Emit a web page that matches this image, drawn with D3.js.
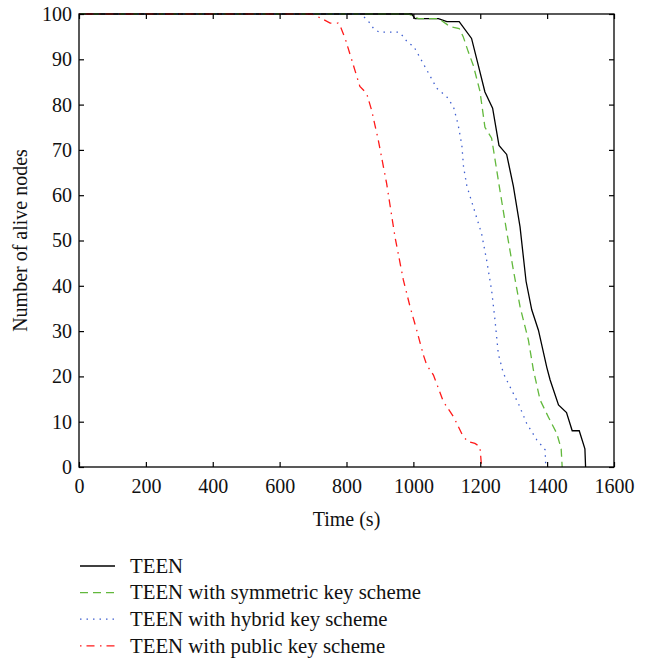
<!DOCTYPE html>
<html>
<head>
<meta charset="utf-8">
<script src="https://cdn.jsdelivr.net/npm/d3@7"></script>
<style>
  body { margin: 0; background: #fff; }
  text { font-family: "Liberation Serif", "DejaVu Serif", serif; fill: #111; }
</style>
</head>
<body>
<div id="chart"></div>
<script>
// x tick values / y tick values
var xTicks = [0, 200, 400, 600, 800, 1000, 1200, 1400, 1600];
var yTicks = [0, 10, 20, 30, 40, 50, 60, 70, 80, 90, 100];

// TEEN
var teenTime = [0, 995, 1005, 1075, 1100, 1137, 1174, 1194, 1214, 1237, 1256, 1279, 1299, 1319, 1337, 1354, 1374, 1399, 1409, 1434, 1458, 1475, 1496, 1513, 1515];
var teenAlive = [100, 100, 99, 99, 98.3, 98.3, 94.6, 88.7, 82.8, 79.2, 71, 69, 62, 53, 41, 34.7, 30.2, 22, 19.2, 13.7, 12, 8, 8, 4, 0];

// TEEN with symmetric key scheme
var symTime = [0, 985, 1015, 1075, 1110, 1137, 1149, 1164, 1179, 1199, 1214, 1234, 1259, 1279, 1299, 1319, 1344, 1359, 1379, 1404, 1429, 1442, 1445];
var symAlive = [100, 100, 99, 99, 97.2, 96.8, 95, 91.7, 88.7, 83, 75, 72.6, 61, 52, 43.5, 35.4, 28, 21.4, 14.8, 11, 7.4, 4, 0];

// TEEN with hybrid key scheme
var hybTime = [0, 840, 858, 870, 882, 898, 958, 970, 985, 1000, 1030, 1070, 1100, 1120, 1134, 1145, 1150, 1160, 1179, 1204, 1219, 1234, 1244, 1254, 1269, 1289, 1314, 1339, 1369, 1394, 1396];
var hybAlive = [100, 100, 99, 98, 96.7, 96, 96, 95, 93.5, 93, 89, 83.6, 81.7, 79.5, 75.5, 71, 66.3, 62, 57.5, 51.5, 45.7, 39, 32.5, 25, 20.7, 17.7, 14, 9.6, 6, 3.8, 0];

// TEEN with public key scheme
var pubTime = [0, 696, 726, 751, 775, 783, 796, 816, 840, 860, 875, 895, 920, 945, 970, 990, 1010, 1030, 1040, 1060, 1090, 1120, 1149, 1164, 1184, 1199, 1204];
var pubAlive = [100, 100, 99, 98, 98, 97, 94.6, 89.8, 84, 82.5, 78.8, 72.2, 62.6, 50.8, 41.3, 35.4, 30.2, 24.7, 22.5, 20.3, 14.4, 11.1, 6.7, 5.6, 5.2, 4.5, 0];

var seriesNames = ["TEEN", "TEEN with symmetric key scheme", "TEEN with hybrid key scheme", "TEEN with public key scheme"];

var series = [
    { name: seriesNames[0], t: teenTime, v: teenAlive, color: "#000000", dash: null },
    { name: seriesNames[1], t: symTime, v: symAlive, color: "#62b83c", dash: "8,5" },
    { name: seriesNames[2], t: hybTime, v: hybAlive, color: "#3f5fd0", dash: "1.5,5" },
    { name: seriesNames[3], t: pubTime, v: pubAlive, color: "#ff1a1a", dash: "1.5,5,8,5.5" }
];

var margin = { top: 14, right: 40, bottom: 192, left: 79 },
    width = 654 - margin.left - margin.right,
    height = 659 - margin.top - margin.bottom;

var x = d3.scaleLinear().domain([0, 1600]).range([0, width]);
var y = d3.scaleLinear().domain([0, 100]).range([height, 0]);

var svg = d3.select("#chart").append("svg")
    .attr("width", 654)
    .attr("height", 659)
    .append("g")
    .attr("transform", "translate(" + margin.left + "," + margin.top + ")");

var line = d3.line()
    .x(function (d) { return x(d[0]); })
    .y(function (d) { return y(d[1]); });

// curves
series.forEach(function (s) {
    var pts = s.t.map(function (t, i) { return [t, s.v[i]]; });
    svg.append("path")
        .datum(pts)
        .attr("fill", "none")
        .attr("stroke", s.color)
        .attr("stroke-width", 1.3)
        .attr("stroke-dasharray", s.dash)
        .attr("d", line);
});

// axes, ticks pointing inward
var fs = "20px";
var fmt = d3.format("d");
svg.append("g")
    .attr("transform", "translate(0," + height + ")")
    .call(d3.axisBottom(x).tickValues(xTicks).tickFormat(fmt).tickSizeInner(-5).tickSizeOuter(0).tickPadding(12));
svg.append("g")
    .call(d3.axisLeft(y).tickValues(yTicks).tickFormat(fmt).tickSizeInner(-5).tickSizeOuter(0).tickPadding(7));
svg.append("g")
    .call(d3.axisTop(x).tickValues(xTicks).tickSizeInner(-5).tickSizeOuter(0).tickFormat(""));
svg.append("g")
    .attr("transform", "translate(" + width + ",0)")
    .call(d3.axisRight(y).tickValues(yTicks).tickSizeInner(-5).tickSizeOuter(0).tickFormat(""));

svg.selectAll(".domain").remove();
svg.selectAll("g").attr("font-family", "Liberation Serif");
svg.selectAll(".tick line").attr("stroke", "#000").attr("stroke-width", 1.2);
svg.selectAll(".tick text").style("font-size", fs).style("font-family", "'Liberation Serif', serif");

svg.append("rect")
    .attr("width", width)
    .attr("height", height)
    .attr("fill", "none")
    .attr("stroke", "#000")
    .attr("stroke-width", 1.3);

// axis titles
svg.append("text")
    .attr("x", width / 2)
    .attr("y", height + 59)
    .attr("text-anchor", "middle")
    .style("font-size", fs)
    .text("Time (s)");

svg.append("text")
    .attr("transform", "translate(" + (-52) + "," + (height / 2) + ") rotate(-90)")
    .attr("text-anchor", "middle")
    .style("font-size", fs)
    .text("Number of alive nodes");

// legend
var legend = svg.append("g")
    .attr("transform", "translate(1," + (height + 99) + ")");

series.forEach(function (s, i) {
    var g = legend.append("g").attr("transform", "translate(0," + (i * 26.6) + ")");
    g.append("line")
        .attr("x1", 0).attr("x2", 35)
        .attr("stroke", s.color)
        .attr("stroke-width", 1.3)
        .attr("stroke-dasharray", s.dash);
    g.append("text")
        .attr("x", 50)
        .attr("dy", "0.33em")
        .style("font-size", "20.8px")
        .text(s.name);
});
</script>
</body>
</html>
